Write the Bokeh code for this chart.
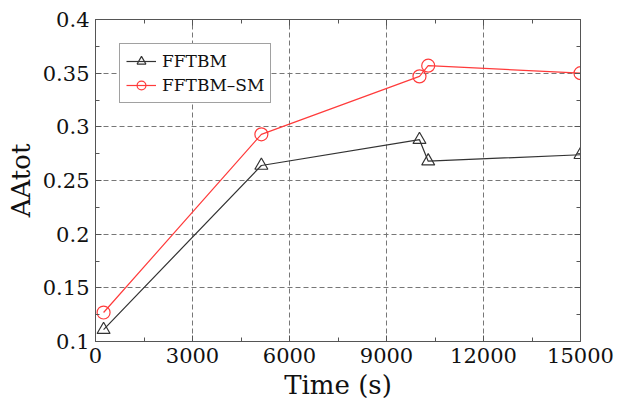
from bokeh.plotting import figure
from bokeh.models import (FixedTicker, LinearAxis, Range1d, Legend, LegendItem,
                          CustomLabelingPolicy)
from bokeh.embed import file_html
from bokeh.resources import INLINE

# Data
time_s = [250, 5130, 10020, 10290, 15000]
fftbm = [0.111, 0.264, 0.288, 0.268, 0.274]
fftbm_sm = [0.127, 0.293, 0.347, 0.357, 0.350]

x_ticks = [0, 3000, 6000, 9000, 12000, 15000]
x_minor = [1500, 4500, 7500, 10500, 13500]
y_ticks = [0.1, 0.15, 0.2, 0.25, 0.3, 0.35, 0.4]
y_tick_labels = ["0.1", "0.15", "0.2", "0.25", "0.3", "0.35", "0.4"]
y_minor = [0.125, 0.175, 0.225, 0.275, 0.325, 0.375]

FONT = "DejaVu Serif"
BLACK = "#333333"
RED = "#ff3b3b"

p = figure(width=617, height=412, output_backend="svg", toolbar_location=None,
           x_range=Range1d(0, 15000), y_range=Range1d(0.1, 0.4),
           min_border_left=95, min_border_right=37, min_border_top=19,
           min_border_bottom=71)
p.background_fill_color = "white"
p.border_fill_color = "white"
p.outline_line_color = "#555555"
p.outline_line_width = 1

def style_axis(ax, size="21px"):
    ax.axis_line_color = "#555555"
    ax.major_tick_in = 6
    ax.major_tick_out = 0
    ax.minor_tick_in = 4
    ax.minor_tick_out = 0
    ax.major_tick_line_color = "#555555"
    ax.minor_tick_line_color = "#555555"
    ax.major_label_text_font = FONT
    ax.major_label_text_font_size = size
    ax.major_label_text_color = "#111111"
    ax.axis_label_text_font = FONT
    ax.axis_label_text_font_size = "26px"
    ax.axis_label_text_font_style = "normal"
    ax.axis_label_text_color = "#111111"

xt = FixedTicker(ticks=x_ticks, minor_ticks=x_minor)
yt = FixedTicker(ticks=y_ticks, minor_ticks=y_minor)

p.xaxis.ticker = xt
p.yaxis.ticker = yt
p.yaxis.major_label_overrides = {t: l for t, l in zip(y_ticks, y_tick_labels)}
p.xaxis.axis_label = "Time (s)"
p.yaxis.axis_label = "AAtot"
style_axis(p.xaxis[0])
style_axis(p.yaxis[0])
p.xaxis.major_label_standoff = 6
p.yaxis.major_label_standoff = 6
p.xaxis.axis_label_standoff = 4
p.yaxis.axis_label_standoff = 4

hide = CustomLabelingPolicy(code="""
for (let i = 0; i < indices.size; i++) { indices.unset(i) }
return indices
""")
top = LinearAxis(ticker=FixedTicker(ticks=x_ticks, minor_ticks=x_minor))
style_axis(top, size="1px")
top.major_label_policy = hide
top.major_label_standoff = 0
p.add_layout(top, "above")
right = LinearAxis(ticker=FixedTicker(ticks=y_ticks, minor_ticks=y_minor))
style_axis(right, size="1px")
right.major_label_policy = hide
right.major_label_standoff = 0
p.add_layout(right, "right")

p.xgrid.ticker = xt
p.ygrid.ticker = yt
for g in (p.xgrid[0], p.ygrid[0]):
    g.grid_line_color = "#777777"
    g.grid_line_dash = "5 3"
    g.grid_line_width = 1

l1 = p.line(time_s, fftbm, line_color=BLACK, line_width=1.2)
m1 = p.scatter(time_s, fftbm, marker="triangle", size=13, fill_color=None,
               line_color=BLACK, line_width=1.2)
l2 = p.line(time_s, fftbm_sm, line_color=RED, line_width=1.2)
m2 = p.scatter(time_s, fftbm_sm, marker="circle", size=13, fill_color=None,
               line_color=RED, line_width=1.2)

legend = Legend(items=[LegendItem(label="FFTBM", renderers=[l1, m1]),
                       LegendItem(label="FFTBM\u2013SM", renderers=[l2, m2])],
                location="top_left")
legend.label_text_font = FONT
legend.label_text_font_size = "17px"
legend.label_text_color = "#111111"
legend.border_line_color = "#444444"
legend.border_line_width = 1
legend.background_fill_alpha = 1
legend.margin = 24
legend.padding = 6
legend.spacing = 2
legend.glyph_width = 30
legend.label_standoff = 6
legend.label_height = 22
legend.glyph_height = 22
p.add_layout(legend)

open("out.html", "w").write(file_html(p, INLINE))
